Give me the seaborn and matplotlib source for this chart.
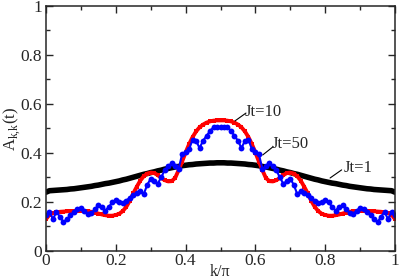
import numpy as np
import pandas as pd
import matplotlib
matplotlib.use('Agg')
import matplotlib.pyplot as plt
from matplotlib.ticker import MultipleLocator
import seaborn as sns

# k/pi grid, step 0.01
k = np.arange(101) / 100

jt1 = [0.24, 0.246, 0.247, 0.248, 0.249, 0.25, 0.251, 0.253, 0.254, 0.256,
       0.258, 0.26, 0.262, 0.264, 0.267, 0.269, 0.272, 0.275, 0.277, 0.28,
       0.283, 0.286, 0.29, 0.293, 0.297, 0.301, 0.305, 0.309, 0.313, 0.316,
       0.32, 0.323, 0.327, 0.33, 0.334, 0.337, 0.34, 0.343, 0.345, 0.348,
       0.35, 0.352, 0.353, 0.355, 0.356, 0.357, 0.358, 0.359, 0.359, 0.36,
       0.36,
       0.36, 0.359, 0.359, 0.358, 0.357, 0.356, 0.355, 0.353, 0.352, 0.35,
       0.348, 0.345, 0.343, 0.34, 0.337, 0.334, 0.33, 0.327, 0.323, 0.32,
       0.316, 0.313, 0.309, 0.305, 0.301, 0.297, 0.293, 0.29, 0.286, 0.283,
       0.28, 0.277, 0.275, 0.272, 0.269, 0.267, 0.264, 0.262, 0.26, 0.258,
       0.256, 0.254, 0.253, 0.251, 0.25, 0.249, 0.248, 0.247, 0.246, 0.24]

jt10 = [0.13, 0.148, 0.155, 0.158, 0.16, 0.161, 0.162, 0.163, 0.163, 0.163,
        0.163, 0.163, 0.162, 0.16, 0.157, 0.153, 0.149, 0.146, 0.144, 0.144,
        0.147, 0.152, 0.163, 0.18, 0.205, 0.235, 0.262, 0.287, 0.305, 0.316,
        0.32, 0.318, 0.31, 0.298, 0.289, 0.284, 0.285, 0.298, 0.33, 0.365,
        0.402, 0.436, 0.465, 0.488, 0.505, 0.516, 0.524, 0.529, 0.532, 0.533,
        0.533,
        0.533, 0.532, 0.529, 0.524, 0.516, 0.505, 0.488, 0.465, 0.436, 0.402,
        0.365, 0.33, 0.298, 0.285, 0.284, 0.289, 0.298, 0.31, 0.318, 0.32,
        0.316, 0.305, 0.287, 0.262, 0.235, 0.205, 0.18, 0.163, 0.152, 0.147,
        0.144, 0.144, 0.146, 0.149, 0.153, 0.157, 0.16, 0.162, 0.163, 0.163,
        0.163, 0.163, 0.163, 0.162, 0.161, 0.16, 0.158, 0.155, 0.148, 0.13]

jt50 = [0.145, 0.16, 0.13, 0.16, 0.14, 0.118, 0.13, 0.145, 0.16, 0.17,
        0.175, 0.165, 0.15, 0.155, 0.17, 0.187, 0.18, 0.165, 0.18, 0.198,
        0.208, 0.2, 0.195, 0.205, 0.218, 0.228, 0.238, 0.245, 0.232, 0.27,
        0.295, 0.285, 0.275, 0.3, 0.33, 0.345, 0.358, 0.345, 0.335, 0.395,
        0.405, 0.415, 0.455, 0.45, 0.42, 0.45, 0.47, 0.49, 0.505, 0.508,
        0.505,
        0.508, 0.505, 0.49, 0.47, 0.45, 0.42, 0.45, 0.455, 0.415, 0.405,
        0.395, 0.335, 0.345, 0.358, 0.345, 0.33, 0.3, 0.275, 0.285, 0.295,
        0.27, 0.232, 0.245, 0.238, 0.228, 0.218, 0.205, 0.195, 0.2, 0.208,
        0.198, 0.18, 0.165, 0.18, 0.187, 0.17, 0.155, 0.15, 0.165, 0.175,
        0.17, 0.16, 0.145, 0.13, 0.118, 0.14, 0.16, 0.13, 0.16, 0.145]

sns.set_style('ticks')
plt.rcParams['font.family'] = ['Liberation Serif', 'DejaVu Serif']
plt.rcParams['mathtext.fontset'] = 'custom'
plt.rcParams['mathtext.rm'] = 'Liberation Serif'

fig = plt.figure(figsize=(3.99, 2.79), dpi=100)
ax = fig.add_axes([0.1153, 0.1004, 0.8747, 0.8781])

sns.lineplot(x=k, y=jt1, color='black', lw=4, ax=ax)
sns.lineplot(x=k, y=jt10, color='red', lw=2.8, marker='s', ms=3,
             markeredgewidth=0, ax=ax)
sns.lineplot(x=k, y=jt50, color='blue', lw=1.5, marker='o', ms=4.2,
             markeredgewidth=0, ax=ax)

ax.set_xlim(0, 1)
ax.set_ylim(0, 1)
ax.xaxis.set_major_locator(MultipleLocator(0.2))
ax.xaxis.set_minor_locator(MultipleLocator(0.1))
ax.yaxis.set_major_locator(MultipleLocator(0.2))
ax.yaxis.set_minor_locator(MultipleLocator(0.1))
ax.xaxis.set_major_formatter(plt.FuncFormatter(lambda v, p: f'{v:g}'))
ax.yaxis.set_major_formatter(plt.FuncFormatter(lambda v, p: f'{v:g}'))
ax.tick_params(which='both', direction='in', top=True, right=True,
               width=1, labelsize=12.5)
ax.tick_params(axis='x', pad=1.5)
ax.tick_params(axis='y', pad=3)
ax.tick_params(which='major', length=5)
ax.tick_params(which='minor', length=3)
for s in ax.spines.values():
    s.set_linewidth(1.1)

ax.set_xlabel('k/π', fontsize=11.5, labelpad=-4)
ax.set_ylabel(r'A$_{\rm k{,}k}$(t)', fontsize=12, labelpad=-2)

# curve labels with leader lines
ax.plot([0.5415, 0.573], [0.531, 0.563], color='black', lw=0.8)
ax.text(0.622, 0.567, 'Jt=10', fontsize=12, ha='center', va='center')
ax.plot([0.621, 0.651], [0.392, 0.426], color='black', lw=0.8)
ax.text(0.699, 0.437, 'Jt=50', fontsize=12, ha='center', va='center')
ax.plot([0.814, 0.847], [0.298, 0.331], color='black', lw=0.8)
ax.text(0.894, 0.339, 'Jt=1', fontsize=12, ha='center', va='center')

fig.savefig('out.png', dpi=100)
